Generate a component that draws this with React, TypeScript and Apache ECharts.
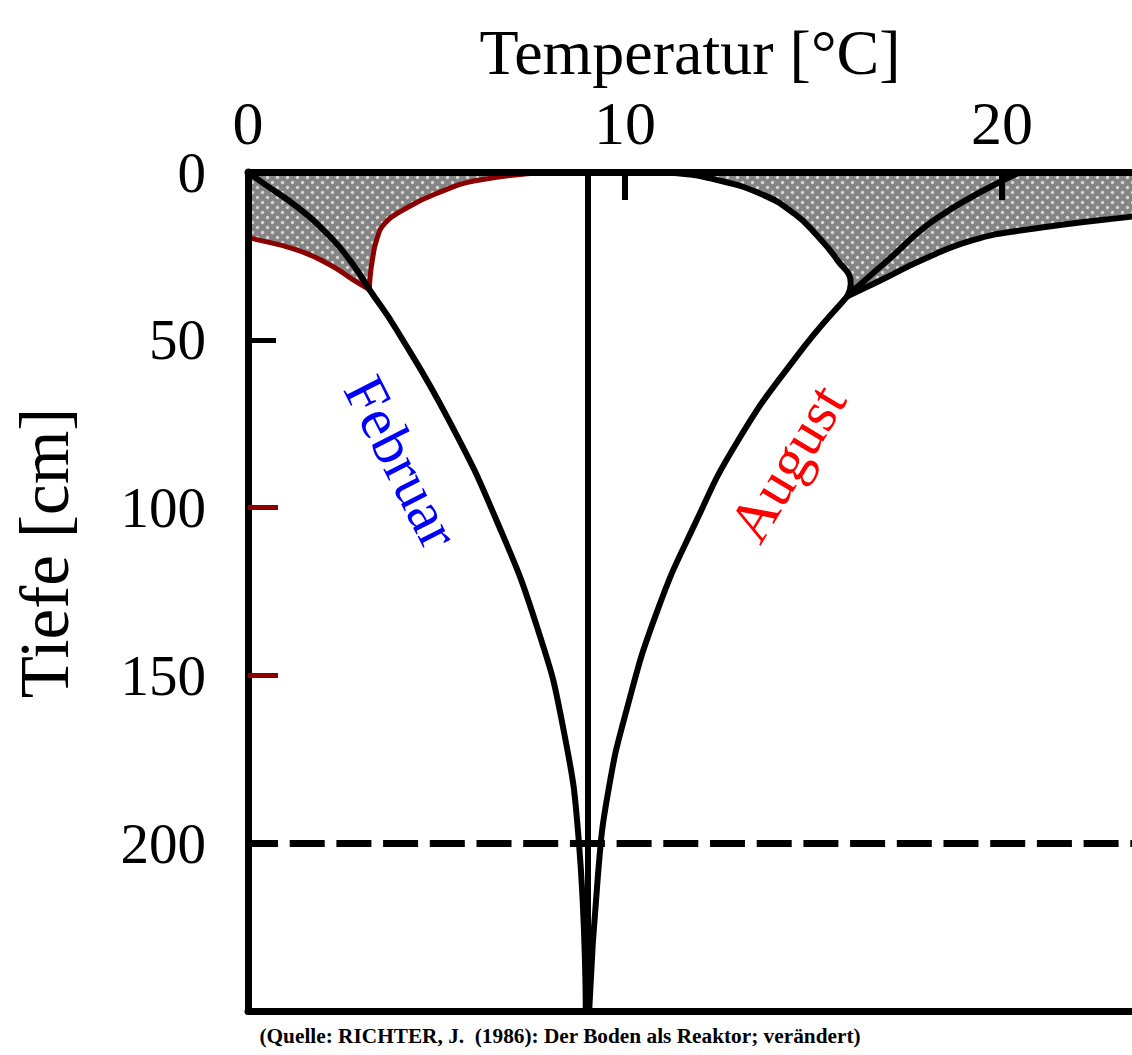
import React, { useEffect, useRef } from "react";
import * as echarts from "echarts";

// ---------- axes ----------
const X_MIN = 0;
const X_MAX = 23.45;
const Y_MIN = 0;
const Y_MAX = 250;
const X_LABELS = [0, 10, 20];
const X_TICKS = [10, 20];
const Y_LABELS = [0, 50, 100, 150, 200];
const Y_TICKS_BLACK = [50, 200];
const Y_TICKS_RED = [100, 150];
const MEAN_TEMP = 9; // annual mean soil temperature (vertical line)
const DASH_DEPTH = 200; // dashed reference depth

// ---------- data: [temperature °C, depth cm] ----------
const FEB_MEAN = [
  [0, 0], [0.41, 3.4], [1.29, 10.3], [2.18, 19.3], [2.75, 27], [3.22, 35],
  [3.94, 47], [5.33, 74], [6.6, 104], [7.68, 136], [8.35, 165], [8.78, 200],
  [8.96, 250],
];
const FEB_MAX = [
  [8.2, 0], [6.15, 2.4], [5.0, 6.4], [4.12, 11.3], [3.63, 15.3], [3.41, 20.3],
  [3.3, 26.2], [3.24, 31.2], [3.22, 35],
];
const FEB_MIN = [
  [-7, 0], [-3, 11], [0.1, 19.8], [1.29, 23.2], [2.18, 27.7], [2.8, 32.2], [3.22, 35],
];
const AUG_MEAN = [
  [20.5, 0], [18.33, 13.3], [16.98, 26.2], [16.17, 34.2], [15.9, 37],
  [14.55, 55], [13.0, 80], [11.85, 105], [10.85, 131], [10.05, 160],
  [9.55, 185], [9.28, 210], [9.05, 250],
];
const AUG_MAX = [
  [35, 0], [28, 8], [23.44, 13.3], [20.58, 17.3], [19.23, 20.3], [17.88, 26.2],
  [16.8, 32.2], [15.9, 37],
];
const AUG_MIN = [
  [10.6, 0], [11.4, 0.4], [12.3, 2.0], [13.6, 6.5], [14.5, 12.5], [15.1, 19],
  [15.63, 26.2], [15.99, 33.2], [15.9, 37],
];

const FILL_REGIONS = [
  [...FEB_MAX, ...[...FEB_MIN].reverse()],
  [...AUG_MIN, ...[...AUG_MAX].reverse()],
];

const SERIF = "'Liberation Serif', 'Times New Roman', Times, serif";
const DARK_RED = "#8b0000";

function makePattern() {
  const c = document.createElement("canvas");
  c.width = 10;
  c.height = 10;
  const ctx = c.getContext("2d")!;
  ctx.fillStyle = "#858585";
  ctx.fillRect(0, 0, 10, 10);
  ctx.fillStyle = "#d6d6d6";
  [[2.5, 2.5], [7.5, 7.5]].forEach(([cx, cy]) => {
    ctx.beginPath();
    ctx.arc(cx, cy, 1.7, 0, Math.PI * 2);
    ctx.fill();
  });
  return { image: c, repeat: "repeat", imageWidth: 10, imageHeight: 10 } as any;
}

function lineSeries(name: string, data: number[][], color: string, width: number, extra: any = {}) {
  return {
    name,
    type: "line",
    data,
    smooth: 0.5,
    symbol: "none",
    showSymbol: false,
    silent: true,
    clip: true,
    z: 3,
    lineStyle: { color, width, cap: "round", join: "round" },
    ...extra,
  };
}

export default function App() {
  const ref = useRef<HTMLDivElement>(null);
  useEffect(() => {
    if (!ref.current) return;
    const chart = echarts.init(ref.current, null, { renderer: "svg" });
    const pattern = makePattern();
    const option: any = {
      animation: false,
      backgroundColor: "#ffffff",
      grid: { left: 248, top: 172, right: 0, bottom: 44, containLabel: false },
      xAxis: [
        {
          type: "value",
          position: "top",
          z: 5,
          min: X_MIN,
          max: X_MAX,
          interval: 10,
          axisLine: { show: true, onZero: false, lineStyle: { color: "#000", width: 7 } },
          axisTick: { show: true, inside: true, length: 28, customValues: X_TICKS, lineStyle: { color: "#000", width: 6 } },
          axisLabel: {
            show: true, margin: 18, fontFamily: SERIF, fontSize: 62, color: "#000",
            customValues: X_LABELS,
          },
          splitLine: { show: false },
        },
        {
          type: "value",
          position: "bottom",
          z: 5,
          min: X_MIN,
          max: X_MAX,
          axisLine: { show: true, onZero: false, lineStyle: { color: "#000", width: 7 } },
          axisTick: { show: false },
          axisLabel: { show: false },
          splitLine: { show: false },
        },
      ],
      yAxis: [
        {
          type: "value",
          inverse: true,
          position: "left",
          z: 5,
          min: Y_MIN,
          max: Y_MAX,
          interval: 50,
          axisLine: { show: true, onZero: false, lineStyle: { color: "#000", width: 7 } },
          axisTick: { show: true, inside: true, length: 28, customValues: Y_TICKS_BLACK, lineStyle: { color: "#000", width: 5 } },
          axisLabel: {
            show: true, margin: 42, fontFamily: SERIF, fontSize: 57, color: "#000",
            customValues: Y_LABELS,
          },
          splitLine: { show: false },
        },
        {
          type: "value",
          inverse: true,
          position: "left",
          offset: 0,
          z: 5,
          min: Y_MIN,
          max: Y_MAX,
          interval: 50,
          axisLine: { show: false, onZero: false },
          axisTick: { show: true, inside: true, length: 30, customValues: Y_TICKS_RED, lineStyle: { color: DARK_RED, width: 5 } },
          axisLabel: { show: false },
          splitLine: { show: false },
        },
      ],
      series: [
        {
          name: "Schwankungsbereich",
          type: "custom",
          coordinateSystem: "cartesian2d",
          clip: true,
          silent: true,
          z: 1,
          data: FILL_REGIONS.map((_, i) => [i, 0]),
          renderItem: (params: any, api: any) => {
            const poly = FILL_REGIONS[params.dataIndex];
            return {
              type: "polygon",
              shape: { points: poly.map((p) => api.coord(p)) },
              style: { fill: pattern, stroke: null },
            };
          },
        },
        lineSeries("Februar Minimum", FEB_MIN, DARK_RED, 5),
        lineSeries("Februar Maximum", FEB_MAX, DARK_RED, 5),
        lineSeries("Februar", FEB_MEAN, "#000", 6, {
          markLine: {
            silent: true,
            symbol: ["none", "none"],
            label: { show: false },
            data: [
              { yAxis: DASH_DEPTH, lineStyle: { color: "#000", width: 7, type: [35, 11.7], dashOffset: 5 } },
              { xAxis: MEAN_TEMP, lineStyle: { color: "#000", width: 6, type: "solid" } },
            ],
          },
        }),
        lineSeries("August Minimum", AUG_MIN, "#000", 6),
        lineSeries("August Maximum", AUG_MAX, "#000", 6),
        lineSeries("August", AUG_MEAN, "#000", 6),
      ],
      graphic: [
        {
          type: "text", x: 690, y: 52, silent: true,
          style: { text: "Temperatur [°C]", fontFamily: SERIF, fontSize: 64, fill: "#000", align: "center", verticalAlign: "middle" },
        },
        {
          type: "text", x: 45, y: 553, rotation: Math.PI / 2, silent: true,
          style: { text: "Tiefe [cm]", fontFamily: SERIF, fontSize: 69, fill: "#000", align: "center", verticalAlign: "middle" },
        },
        {
          type: "text", x: 402, y: 462, rotation: (-63 * Math.PI) / 180, silent: true,
          style: { text: "Februar", fontFamily: SERIF, fontSize: 59, fill: "#0000ff", align: "center", verticalAlign: "middle" },
        },
        {
          type: "text", x: 787, y: 463, rotation: (59 * Math.PI) / 180, silent: true,
          style: { text: "August", fontFamily: SERIF, fontSize: 59, fill: "#ff0000", align: "center", verticalAlign: "middle" },
        },
        {
          type: "text", x: 560, y: 1036, silent: true,
          style: {
            text: "(Quelle: RICHTER, J.  (1986): Der Boden als Reaktor; verändert)",
            fontFamily: SERIF, fontSize: 21.3, fontWeight: "bold", fill: "#000", align: "center", verticalAlign: "middle",
          },
        },
      ],
    };
    chart.setOption(option);
    return () => chart.dispose();
  }, []);
  return (
    <div
      ref={ref}
      style={{ position: "absolute", left: 0, top: 0, width: 1132, height: 1055, background: "#fff" }}
    />
  );
}
